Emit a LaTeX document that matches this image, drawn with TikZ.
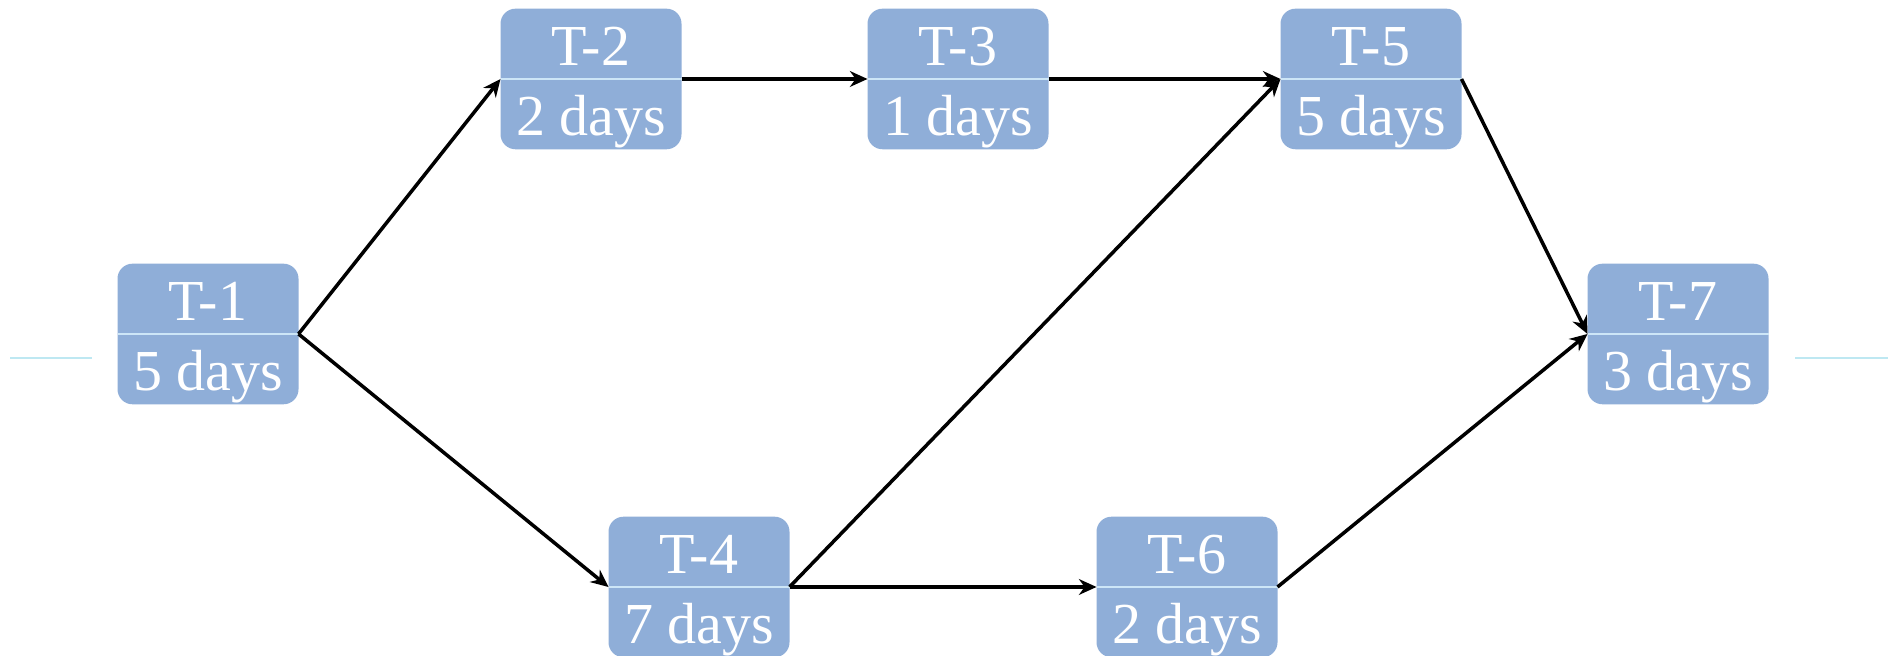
\documentclass[tikz,border=0pt]{standalone}
\usepackage{fontspec}
\setmainfont{Liberation Serif}
\usepackage{tikz}
\usetikzlibrary {arrows.meta,shapes.multipart}
\definecolor{taskblue}{RGB}{143,174,216}
\definecolor{splitline}{RGB}{205,230,247}
\definecolor{sideline}{RGB}{190,232,242}
\newcommand{\taskstrut}{\rule[-3.6pt]{0pt}{19.4pt}}

\begin{document}
\begin{tikzpicture}[
	task/.style={rectangle split,rectangle split parts=2,rectangle split draw splits=false,anchor=text split,fill=taskblue,rounded corners=0.15cm,minimum width=1.81cm,inner xsep=0pt,inner ysep=0.1pt,outer sep=0pt,text=white,font=\fontsize{16.5}{20}\selectfont},
	split/.style={draw=splitline,line width=0.6pt},
	link/.style={-{Stealth[length=5pt,width=4.5pt]},line width=1pt}]
	\useasboundingbox (0,0) rectangle (19,6.56);
	\draw[sideline, line width=0.6pt] (0.10,2.98) -- (0.92,2.98);
	\draw[sideline, line width=0.6pt] (17.95,2.98) -- (18.88,2.98);
	\node[task] (T1) at (2.08,3.22) {\taskstrut T-1 \nodepart{two}\taskstrut 5 days};
	\node[task] (T2) at (5.91,5.77) {\taskstrut T-2 \nodepart{two}\taskstrut 2 days};
	\node[task] (T3) at (9.58,5.77) {\taskstrut T-3 \nodepart{two}\taskstrut 1 days};
	\node[task] (T4) at (6.99,0.69) {\taskstrut T-4 \nodepart{two}\taskstrut 7 days};
	\node[task] (T5) at (13.71,5.77) {\taskstrut T-5 \nodepart{two}\taskstrut 5 days};
	\node[task] (T6) at (11.87,0.69) {\taskstrut T-6 \nodepart{two}\taskstrut 2 days};
	\node[task] (T7) at (16.78,3.22) {\taskstrut T-7 \nodepart{two}\taskstrut 3 days};
	\draw[split] (T1.text split west) -- (T1.text split east);
	\draw[split] (T2.text split west) -- (T2.text split east);
	\draw[split] (T3.text split west) -- (T3.text split east);
	\draw[split] (T4.text split west) -- (T4.text split east);
	\draw[split] (T5.text split west) -- (T5.text split east);
	\draw[split] (T6.text split west) -- (T6.text split east);
	\draw[split] (T7.text split west) -- (T7.text split east);
	\draw[link] (T1.text split east) -- (T2.text split west);
	\draw[link] (T1.text split east) -- (T4.text split west);
	\draw[link] (T2.text split east) -- (T3.text split west);
	\draw[link] (T3.text split east) -- (T5.text split west);
	\draw[link] (T4.text split east) -- (T5.text split west);
	\draw[link] (T4.text split east) -- (T6.text split west);
	\draw[link] (T5.text split east) -- (T7.text split west);
	\draw[link] (T6.text split east) -- (T7.text split west);
\end{tikzpicture}
\end{document}
